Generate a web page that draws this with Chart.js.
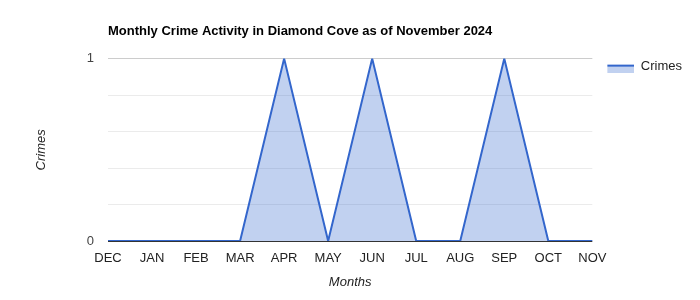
<!DOCTYPE html>
<html>
<head>
<meta charset="utf-8">
<script src="https://cdn.jsdelivr.net/npm/chart.js@4/dist/chart.umd.min.js"></script>
<style>
  html, body { margin: 0; padding: 0; background: #fff; }
  #wrap { width: 700px; height: 300px; }
</style>
</head>
<body>
<div id="wrap"><canvas id="crimes" width="700" height="300"></canvas></div>
<script>
// data
const MONTHS = ['DEC', 'JAN', 'FEB', 'MAR', 'APR', 'MAY', 'JUN', 'JUL', 'AUG', 'SEP', 'OCT', 'NOV']
const CRIMES = [0, 0, 0, 0, 1, 0, 1, 0, 0, 1, 0, 0]
const Y_TICKS = [0, 1]

const FONT = 'Arial, "Liberation Sans", sans-serif'
const LINE = '#3366cc'
const AREA = 'rgba(51, 102, 204, 0.3)'

// legend swatch: filled box with a line on top (left part kept empty as spacing)
var sw = document.createElement('canvas')
sw.width = 41; sw.height = 13
var s = sw.getContext('2d')
s.fillStyle = AREA
s.fillRect(14, 6, 27, 7)
s.fillStyle = LINE
s.fillRect(14, 5, 27, 2)

var ctx = document.getElementById('crimes').getContext('2d');
var chart = new Chart(ctx, {
    type: 'line',
    data: {
        labels: MONTHS,
        datasets: [{
            label: 'Crimes',
            data: CRIMES,
            borderColor: LINE,
            backgroundColor: AREA,
            borderWidth: 2,
            fill: 'origin',
            pointRadius: 0,
            tension: 0
        }]
    },
    options: {
        responsive: false,
        animation: false,
        layout: { padding: { left: 30, right: 8, top: 0, bottom: 6 } },
        plugins: {
            title: {
                display: true,
                text: 'Monthly Crime Activity in Diamond Cove as of November 2024',
                align: 'start',
                fullSize: false,
                color: '#000',
                font: { family: FONT, size: 13, weight: 'bold' },
                padding: { top: 24, bottom: 19 }
            },
            legend: {
                position: 'right',
                align: 'start',
                fullSize: false,
                labels: {
                    usePointStyle: true,
                    pointStyle: sw,
                    pointStyleWidth: 41,
                    color: '#222',
                    font: { family: FONT, size: 13 },
                    padding: 1
                }
            },
            tooltip: { enabled: false }
        },
        scales: {
            x: {
                offset: false,
                grid: { display: false, drawTicks: false },
                border: { display: false },
                ticks: { color: '#222', font: { family: FONT, size: 13 }, padding: 10, maxRotation: 0, autoSkip: false },
                title: { display: true, text: 'Months', color: '#222', font: { family: FONT, size: 13, style: 'italic' } },
                afterFit: function (scale) { scale.height = 53 }
            },
            y: {
                min: 0,
                max: 1,
                border: { display: false },
                grid: {
                    drawTicks: false,
                    lineWidth: 1,
                    color: function (c) {
                        var v = Math.round(c.tick.value * 100) / 100
                        if (v === 0) return '#333'
                        return Y_TICKS.includes(v) ? '#cccccc' : '#ebebeb'
                    }
                },
                ticks: {
                    stepSize: 0.2,
                    color: '#444',
                    padding: 14,
                    font: { family: FONT, size: 13 },
                    callback: function (v) {
                        var r = Math.round(v * 100) / 100
                        return Y_TICKS.includes(r) ? String(r) : ''
                    }
                },
                title: { display: true, text: 'Crimes', color: '#222', font: { family: FONT, size: 13, style: 'italic' } },
                afterFit: function (scale) { scale.width = 78 }
            }
        }
    }
})
</script>
</body>
</html>
